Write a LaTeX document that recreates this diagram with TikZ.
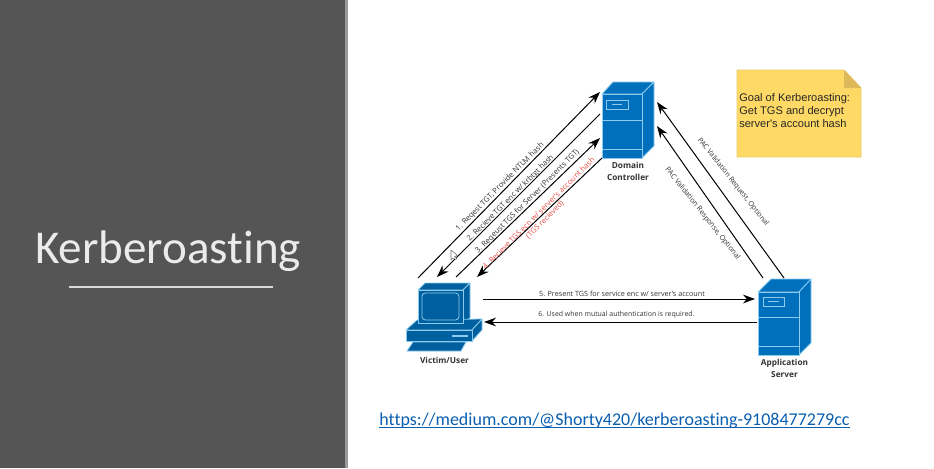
\documentclass[tikz,border=0pt]{standalone}
\usepackage{fontspec}
\setmainfont{Open Sans}
\newfontfamily\carfont[Ligatures=NoCommon]{Carlito}
\newfontfamily\arifont{Liberation Sans}
\usetikzlibrary{arrows.meta}
\definecolor{panel}{HTML}{555555}
\definecolor{paneledge}{HTML}{9A9A9A}
\definecolor{srv}{HTML}{0070BC}
\definecolor{pc}{HTML}{005F9E}
\definecolor{edgeb}{HTML}{8CCBEE}
\definecolor{notey}{HTML}{FFD966}
\definecolor{notee}{HTML}{EBCB68}
\definecolor{notef}{HTML}{DDB95C}
\definecolor{linkb}{HTML}{0B5FB0}
\definecolor{redt}{HTML}{E8514A}
\definecolor{lab}{HTML}{333333}
\tikzset{
  face/.style={fill=srv,draw=edgeb,line width=0.6pt,line join=round},
  pcface/.style={fill=pc,draw=edgeb,line width=0.6pt,line join=round},
  inner/.style={draw=edgeb,line width=0.6pt},
  flow/.style={draw=black,line width=0.75pt,-{Stealth[length=9pt,width=6.5pt]}},
  msg/.style={font=\fontsize{5.7}{6.5}\selectfont,text=lab,inner sep=0pt,align=center},
  msgsmall/.style={font=\fontsize{5.4}{6.5}\selectfont,text=lab,inner sep=0pt,align=center},
  captext/.style={font=\bfseries\fontsize{6.2}{9}\selectfont,text=lab,inner sep=0pt,align=center},
}
\begin{document}
\begin{tikzpicture}[x=0.75pt,y=-0.75pt]
\useasboundingbox (0,0) rectangle (934,468);
\fill[white] (0,0) rectangle (934,468);
% left panel
\fill[panel] (0,0) rectangle (345,468);
\fill[paneledge] (345,0) rectangle (348,468);
\node[inner sep=0pt,text=white!92!black,font=\carfont\fontsize{35.3}{40}\selectfont,anchor=base] (title) at (168,263) {Kerberoasting};
\draw[white!85!black,line width=0.9pt] (69,287) coordinate (ul) -- (273,287) coordinate (ur);
% domain controller
\draw[face] (602,94) -- (613,82) -- (654,82) -- (642,94) -- cycle;
\draw[face] (642,94) -- (654,82) -- (654,146) -- (642,158) -- cycle;
\node[face,minimum width=30pt,minimum height=48pt,inner sep=0pt,anchor=north west] (dc) at (602,94) {};
\draw[inner] (602,120) -- (642,120) (602,149) -- (642,149);
\draw[inner] (606,100) rectangle (628,109);
\draw[inner] (612,104.5) -- (622,104.5);
\node[captext] (dccap) at (628,171) {Domain\\Controller};
% application server
\draw[face] (758,292) -- (771,279) -- (811,279) -- (799,292) -- cycle;
\draw[face] (799,292) -- (811,279) -- (811,343) -- (799,355) -- cycle;
\node[face,minimum width=30.75pt,minimum height=47.25pt,inner sep=0pt,anchor=north west] (app) at (758,292) {};
\draw[inner] (758,317) -- (799,317) (758,346) -- (799,346);
\draw[inner] (763,297) rectangle (784,306);
\draw[inner] (768,301.5) -- (779,301.5);
\node[captext] (appcap) at (784.5,368) {Application\\Server};
% victim computer
\draw[pcface] (418,290) -- (425,283) -- (470,283) -- (463,290) -- cycle;
\draw[pcface] (463,290) -- (470,283) -- (470,318) -- (463,323) -- cycle;
\draw[pcface] (406,330) -- (417,320) -- (482,319) -- (472,330) -- cycle;
\draw[pcface] (472,330) -- (482,319) -- (482,330) -- (472,341) -- cycle;
\node[pcface,minimum width=49.5pt,minimum height=8.25pt,inner sep=0pt,anchor=north west] (base) at (406,330) {};
\node[pcface,minimum width=33.75pt,minimum height=24.75pt,inner sep=0pt,anchor=north west] (user) at (418,290) {};
\draw[inner,rounded corners=2.5pt] (422,293) rectangle (459,320);
\draw[inner,line width=1pt] (452,336) -- (468,336);
\draw[pcface] (413,342) -- (466,342) -- (461,351) -- (407,351) -- cycle;
\node[captext] (usercap) at (444.5,360) {Victim/User};
% ports
\coordinate (u1) at (418,278); \coordinate (d1) at (600,92);
\coordinate (d2) at (600,114); \coordinate (u2) at (437,277);
\coordinate (u3) at (456,277); \coordinate (d3) at (600,138);
\coordinate (d4) at (602,158); \coordinate (u4) at (477,277);
\coordinate (u5) at (483,299); \coordinate (a5) at (755,299);
\coordinate (a6) at (757,322); \coordinate (u6) at (484,322);
\coordinate (a7) at (784,278); \coordinate (d7) at (657,102);
\coordinate (a8) at (763,278); \coordinate (d8) at (657,126);
\draw[flow] (u1) -- (d1);
\draw[flow] (d2) -- (u2);
\draw[flow] (u3) -- (d3);
\draw[flow] (d4) -- (u4);
\draw[flow] (u5) -- (a5);
\draw[flow] (a6) -- (u6);
\draw[flow] (a7) -- (d7);
\draw[flow] (a8) -- (d8);
% labels
\node[msg,rotate=45] (m1) at (500,187) {1. Reqest TGT, Provide NTLM hash};
\node[msg,rotate=45] (m2) at (510.5,198.5) {2. Recieve TGT enc w/ krbtgt hash};
\node[msg,rotate=45] (m3) at (527.5,201.7) {3. Reqeust TGS for Server (Presents TGT)};
\node[msg,rotate=45,text=redt] (m4) at (538.5,213) {4. Recieve TGS ecn w/ server's account hash};
\node[msg,rotate=45,text=redt] (m4b) at (545,220) {(TGS recieved)};
\node[msgsmall] (m5) at (622,294) {5. Present TGS for service enc w/ server's account};
\node[msgsmall,font=\fontsize{5.2}{6.5}\selectfont] (m6) at (616.5,315) {6. Used when mutual authentication is required.};
\node[msgsmall,rotate=-51.5] (m7) at (733,182) {PAC Validation Request, Optional};
\node[msgsmall,rotate=-51.5] (m8) at (702.5,213.5) {PAC Validation Response, Optional};
% note
\draw[draw=notee,fill=notey,line width=0.7pt,line join=round] (737,70) -- (844,70) -- (861,88) -- (861,157) -- (737,157) -- cycle;
\fill[notef] (844,70) -- (861,88) -- (844,88) -- cycle;
\node[inner sep=0pt,anchor=north west,align=left,text=black!85,font=\arifont\fontsize{8.3}{10}\selectfont] (note) at (739,93) {Goal of Kerberoasting:\\Get TGS and decrypt\\server's account hash};
% cursor
\draw[fill=white,draw=black!55,line width=0.4pt,line join=round] (451,250) -- (451,260) -- (453.2,258) -- (456,259.5) -- (457,258.5) -- (454.5,256.5) -- (457.5,255.5) -- cycle;
% link
\node[inner sep=0pt,anchor=base,text=linkb,font=\carfont\fontsize{13.5}{16}\selectfont] (link) at (614.5,425.5) {https://medium.com/@Shorty420/kerberoasting-9108477279cc};
\draw[linkb,line width=0.6pt] (379,427.5) coordinate (la) -- (850,427.5) coordinate (lb);
\end{tikzpicture}
\end{document}
